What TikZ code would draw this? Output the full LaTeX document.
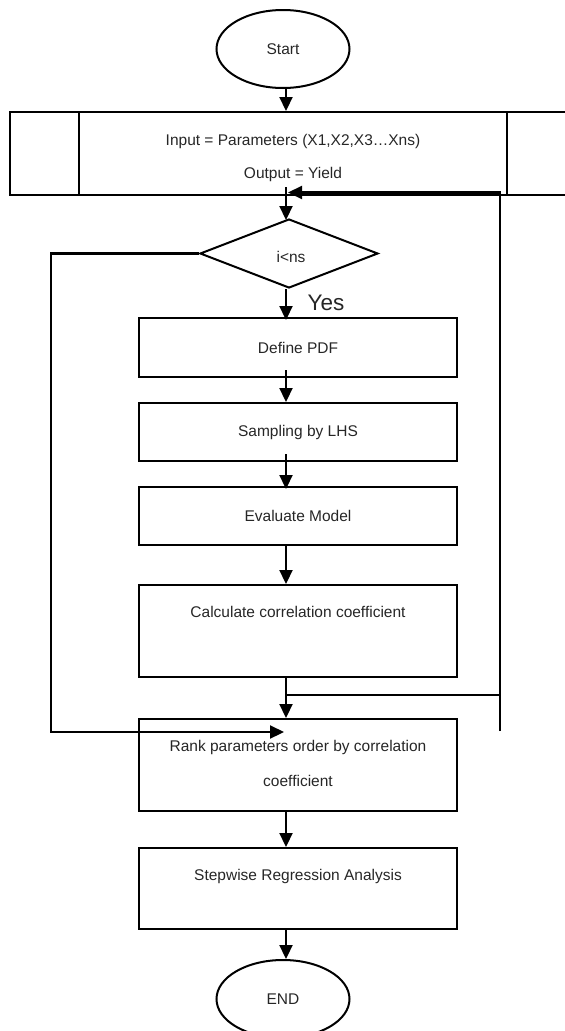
\documentclass[tikz,border=0pt]{standalone}
\usepackage{fontspec}
\setmainfont{Liberation Sans}
\usetikzlibrary{arrows.meta,shapes.geometric,calc}
\begin{document}
\begin{tikzpicture}[x=1pt,y=-1pt,
  every node/.style={text=black!85, font=\fontsize{15.5}{18}\selectfont},
  boxline/.style={draw=black, line width=2pt},
  procbox/.style={boxline, rectangle, minimum width=318pt, inner sep=0pt},
  terminal/.style={boxline, ellipse, minimum width=133pt, minimum height=78pt, inner sep=0pt},
  flow/.style={draw=black, line width=2.2pt, -{Triangle[length=14pt,width=13pt]}},
  plain/.style={draw=black, line width=2.2pt},
  txt/.style={inner sep=0pt, anchor=center}]
\useasboundingbox (0,0) rectangle (565,1031);
\clip (0,0) rectangle (565,1031);

% terminals
\node[terminal] (start) at (283,49) {Start};
\node[terminal] (stop) at (283,999) {END};

% input/output block with side bars
\node[boxline, rectangle, minimum width=570pt, minimum height=83pt, inner sep=0pt] (io) at (295,153.5) {};
\draw[boxline] (79,112) -- (79,195);
\draw[boxline] (507,112) -- (507,195);
\node[txt] (iotxt1) at (293,141) {Input = Parameters (X1,X2,X3…Xns)};
\node[txt] (iotxt2) at (293,174) {Output = Yield};

% decision
\node[boxline, diamond, minimum width=178pt, minimum height=69pt, inner sep=0pt] (cond) at (289,253.5) {};
\node[txt] (condtxt) at (291,257) {i<ns};
\node[txt, font=\fontsize{22.5}{26}\selectfont] (yes) at (326,303) {Yes};

% process steps
\node[procbox, minimum height=59pt] (pdf) at (298,347.5) {Define PDF};
\node[procbox, minimum height=58pt] (lhs) at (298,432) {Sampling by LHS};
\node[procbox, minimum height=58pt] (eval) at (298,516) {Evaluate Model};
\node[procbox, minimum height=92pt] (corr) at (298,631) {};
\node[txt] (corrtxt) at (298,612) {Calculate correlation coefficient};
\node[procbox, minimum height=92pt] (rank) at (298,765) {};
\node[txt] (ranktxt1) at (298,747) {Rank parameters order by correlation};
\node[txt] (ranktxt2) at (298,781) {coefficient};
\node[procbox, minimum height=81pt] (sra) at (298,888.5) {};
\node[txt] (sratxt) at (298,876) {Stepwise Regression Analysis};

% main spine
\coordinate (spine) at (286,0);
\coordinate (join) at (286,187);
\coordinate (branch) at (286,695);
\coordinate (rtop) at (500,192.5);
\coordinate (rtail) at (500,731);
\coordinate (lside) at (51,0);
\coordinate (rankin) at (284,732);

\draw[flow] (start.south -| spine) -- (io.north -| spine);
\draw[flow] (join) -- ([yshift=-2pt]cond.north -| spine);
\draw[flow] (cond.south -| spine) -- ([yshift=-3pt]pdf.north -| spine);
\draw[flow] ([yshift=8pt]pdf.south -| spine) -- (lhs.north -| spine);
\draw[flow] ([yshift=8pt]lhs.south -| spine) -- ([yshift=-3pt]eval.north -| spine);
\draw[flow] (eval.south -| spine) -- (corr.north -| spine);
\draw[flow] (corr.south -| spine) -- (rank.north -| spine);
\draw[flow] (rank.south -| spine) -- (sra.north -| spine);
\draw[flow] (sra.south -| spine) -- (stop.north -| spine);

% loop back to the decision
\draw[plain, line width=1.6pt] (branch) -- (branch -| rtop);
\draw[flow] (rtail) -- (rtop) -- (rtop -| 288,0);

% exit of the loop
\draw[flow] (cond.west) -- (cond.west -| lside) |- (rankin);
\end{tikzpicture}
\end{document}
